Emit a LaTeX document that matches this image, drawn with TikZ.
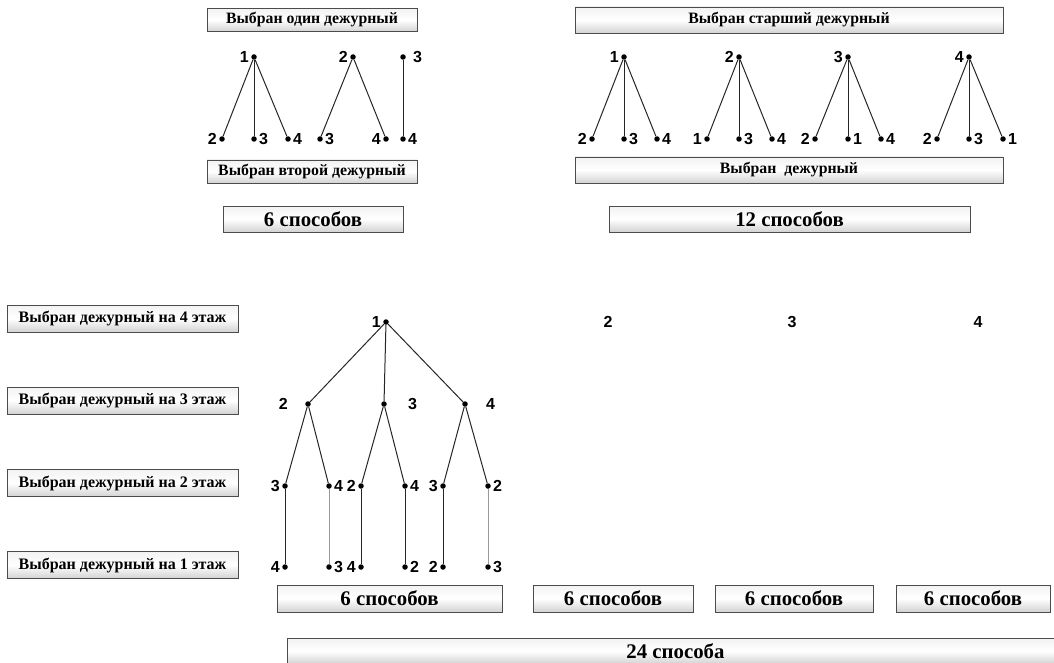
\documentclass[tikz,border=0pt]{standalone}
\usepackage{fontspec}
\setmainfont{Liberation Serif}
\newfontfamily\numfont{Liberation Sans}
\begin{document}
\begin{tikzpicture}[x=1pt,y=-1pt,
  box/.style={draw=black!70, line width=0.8pt, top color=gray!10, bottom color=gray!35, middle color=white,
              inner sep=0pt, outer sep=0pt, text=black, font=\fontsize{15.8}{17}\selectfont\bfseries},
  lbox/.style={box, font=\fontsize{16}{18}\selectfont\bfseries},
  bigbox/.style={box, font=\fontsize{20.8}{23}\selectfont\bfseries},
  pt/.style={circle, fill=black, inner sep=0pt, minimum size=5.5pt},
  edge/.style={line width=1pt, black!85},
  gedge/.style={line width=1pt, black!40},
  numlab/.style={font=\numfont\bfseries\fontsize{16}{18}\selectfont, inner sep=1pt},
  every label/.style={numlab},
  label distance=1pt]
\path[use as bounding box] (0,0) rectangle (1054,663);
\clip (0,0) rectangle (1054,663);

% ---------- top left ----------
\node[box, minimum width=210pt, minimum height=23pt] (bxA) at (312,20) {Выбран один дежурный};
\node[box, minimum width=210pt, minimum height=23pt] (bxB) at (312,171.5) {Выбран второй дежурный};
\node[bigbox, minimum width=180pt, minimum height=26pt] (bxC) at (313,219) {6 способов};

\node[pt,label=left:1]  (a0) at (254,57) {};
\node[pt,label=left:2]  (a1) at (222,139) {};
\node[pt,label=right:3] (a2) at (254,139) {};
\node[pt,label=right:4] (a3) at (288,139) {};
\draw[edge] (a0) -- (a1); \draw[edge] (a0) -- (a2); \draw[edge] (a0) -- (a3);

\node[pt,label=left:2]  (b0) at (353,57) {};
\node[pt,label=right:3] (b1) at (320,139) {};
\node[pt,label=left:4]  (b2) at (386,139) {};
\draw[edge] (b0) -- (b1); \draw[edge] (b0) -- (b2);

\node[pt,label={[label distance=6pt]right:3}] (c0) at (403,57) {};
\node[pt,label=right:4] (c1) at (403,139) {};
\draw[edge] (c0) -- (c1);

% ---------- top right ----------
\node[box, minimum width=428pt, minimum height=26pt] (bxD) at (789,20) {Выбран старший дежурный};
\node[box, minimum width=428pt, minimum height=26pt] (bxE) at (789,170) {Выбран\ \ дежурный};
\node[bigbox, minimum width=361pt, minimum height=26pt] (bxF) at (789.5,219) {12 способов};

\node[pt,label=left:1]  (d0) at (624,57) {};
\node[pt,label=left:2]  (d1) at (592,139) {};
\node[pt,label=right:3] (d2) at (624,139) {};
\node[pt,label=right:4] (d3) at (657,139) {};
\draw[edge] (d0) -- (d1); \draw[edge] (d0) -- (d2); \draw[edge] (d0) -- (d3);

\node[pt,label=left:2]  (e0) at (739,57) {};
\node[pt,label=left:1]  (e1) at (707,139) {};
\node[pt,label=right:3] (e2) at (739,139) {};
\node[pt,label=right:4] (e3) at (772,139) {};
\draw[edge] (e0) -- (e1); \draw[edge] (e0) -- (e2); \draw[edge] (e0) -- (e3);

\node[pt,label=left:3]  (f0) at (848,57) {};
\node[pt,label=left:2]  (f1) at (815,139) {};
\node[pt,label=right:1] (f2) at (848,139) {};
\node[pt,label=right:4] (f3) at (881,139) {};
\draw[edge] (f0) -- (f1); \draw[edge] (f0) -- (f2); \draw[edge] (f0) -- (f3);

\node[pt,label=left:4]  (g0) at (969,57) {};
\node[pt,label=left:2]  (g1) at (937,139) {};
\node[pt,label=right:3] (g2) at (969,139) {};
\node[pt,label=right:1] (g3) at (1003,139) {};
\draw[edge] (g0) -- (g1); \draw[edge] (g0) -- (g2); \draw[edge] (g0) -- (g3);

% ---------- bottom left labels ----------
\node[lbox, minimum width=231pt, minimum height=27pt] (lv4) at (122.5,318.5) {Выбран дежурный на 4 этаж};
\node[lbox, minimum width=231pt, minimum height=27pt] (lv3) at (122.5,400.5) {Выбран дежурный на 3 этаж};
\node[lbox, minimum width=231pt, minimum height=27pt] (lv2) at (122.5,483) {Выбран дежурный на 2 этаж};
\node[lbox, minimum width=231pt, minimum height=27pt] (lv1) at (122.5,565) {Выбран дежурный на 1 этаж};

% ---------- big tree ----------
\node[pt,label=left:1] (r) at (386,322) {};
\node[pt,label={[label distance=16pt]left:2}]  (m1) at (308,404) {};
\node[pt,label={[label distance=20pt]right:3}] (m2) at (384,404) {};
\node[pt,label={[label distance=17pt]right:4}] (m3) at (465,404) {};
\draw[edge] (r) -- (m1); \draw[edge] (r) -- (m2); \draw[edge] (r) -- (m3);

\node[pt,label=left:3]  (n1) at (285,486) {};
\node[pt,label=right:4] (n2) at (329,486) {};
\node[pt,label=left:2]  (n3) at (361,486) {};
\node[pt,label=right:4] (n4) at (405,486) {};
\node[pt,label=left:3]  (n5) at (443,486) {};
\node[pt,label=right:2] (n6) at (488,486) {};
\draw[edge] (m1) -- (n1); \draw[edge] (m1) -- (n2);
\draw[edge] (m2) -- (n3); \draw[edge] (m2) -- (n4);
\draw[edge] (m3) -- (n5); \draw[edge] (m3) -- (n6);

\node[pt,label=left:4]  (o1) at (285,567) {};
\node[pt,label=right:3] (o2) at (329,567) {};
\node[pt,label=left:4]  (o3) at (361,567) {};
\node[pt,label=right:2] (o4) at (405,567) {};
\node[pt,label=left:2]  (o5) at (443,567) {};
\node[pt,label=right:3] (o6) at (488,567) {};
\draw[edge] (n1) -- (o1); \draw[gedge] (n2) -- (o2);
\draw[edge] (n3) -- (o3); \draw[edge] (n4) -- (o4);
\draw[edge] (n5) -- (o5); \draw[gedge] (n6) -- (o6);

\node[numlab] (s2) at (608,322) {2};
\node[numlab] (s3) at (792,322) {3};
\node[numlab] (s4) at (978,322) {4};

% ---------- bottom totals ----------
\node[bigbox, minimum width=225pt, minimum height=27pt] (w1) at (389.5,598.5) {6 способов};
\node[bigbox, minimum width=160pt, minimum height=27pt] (w2) at (613,598.5) {6 способов};
\node[bigbox, minimum width=158pt, minimum height=27pt] (w3) at (794,598.5) {6 способов};
\node[bigbox, minimum width=154pt, minimum height=27pt] (w4) at (973,598.5) {6 способов};
\node[bigbox, minimum width=777pt, minimum height=26pt] (tot) at (675.5,651) {24 способа};
\end{tikzpicture}
\end{document}
